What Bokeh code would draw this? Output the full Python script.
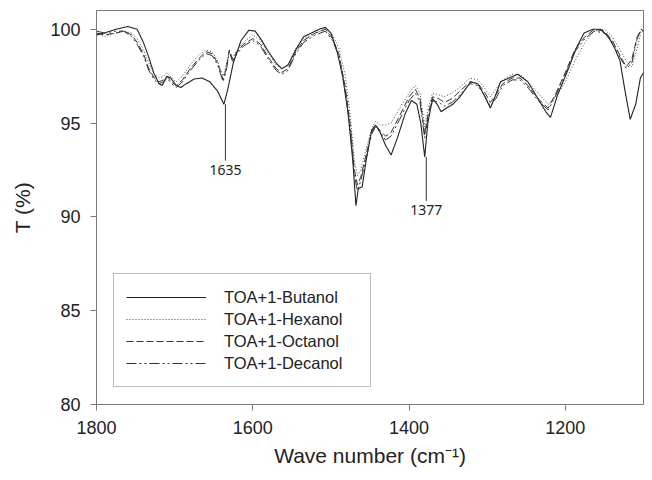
from bokeh.plotting import figure
from bokeh.models import Range1d, FixedTicker, Legend, LegendItem, ColumnDataSource
from bokeh.core.properties import value
from bokeh.embed import file_html
from bokeh.resources import INLINE

# ---------------- data ----------------
butanol_w = [1800, 1790, 1775, 1760, 1748, 1740, 1733, 1727, 1720, 1716, 1710, 1705, 1698, 1692,
             1685, 1675, 1665, 1655, 1645, 1637, 1632, 1625, 1615, 1605, 1597, 1590, 1580, 1570,
             1563, 1555, 1545, 1535, 1525, 1515, 1507, 1500, 1492, 1485, 1478, 1472, 1468, 1465,
             1460, 1455, 1448, 1443, 1438, 1430, 1423, 1415, 1405, 1397, 1390, 1385, 1380, 1376,
             1370, 1364, 1359, 1352, 1344, 1335, 1321, 1312, 1304, 1296, 1290, 1283, 1272, 1261,
             1248, 1235, 1225, 1219, 1210, 1197, 1186, 1176, 1165, 1155, 1145, 1137, 1130, 1124,
             1117, 1110, 1104, 1100]
butanol_t = [99.7, 99.8, 100.0, 100.15, 100.0, 99.3, 98.5, 97.7, 97.1, 97.0, 97.5, 97.4, 97.0, 96.9,
             97.1, 97.35, 97.4, 97.2, 96.7, 96.0, 96.8, 98.2, 99.4, 99.95, 99.9, 99.5, 98.8, 98.2,
             97.9, 98.1, 98.9, 99.6, 99.8, 100.0, 100.1, 99.8, 98.8, 97.5, 95.5, 93.0, 90.6, 91.5,
             91.6, 93.0, 94.6, 94.9, 94.6, 93.8, 93.3, 94.2, 95.5, 96.2, 96.0, 95.0, 93.2, 95.0,
             96.3, 96.0, 95.6, 95.8, 96.0, 96.4, 97.2, 97.1, 96.5, 95.8, 96.4, 97.2, 97.4, 97.6,
             97.2, 96.3, 95.6, 95.3, 96.5, 97.8, 99.0, 99.8, 100.0, 100.0, 99.6, 99.0, 98.3, 96.8,
             95.2, 96.0, 97.4, 97.7]

hexanol_w = [1800, 1790, 1775, 1765, 1755, 1748, 1740, 1733, 1726, 1720, 1714, 1710, 1704, 1698,
             1690, 1680, 1670, 1660, 1652, 1645, 1638, 1634, 1630, 1626, 1620, 1612, 1600, 1590,
             1580, 1570, 1563, 1555, 1545, 1535, 1520, 1507, 1498, 1490, 1482, 1475, 1470, 1466,
             1462, 1455, 1448, 1443, 1437, 1430, 1423, 1412, 1400, 1392, 1386, 1380, 1376, 1370,
             1362, 1355, 1345, 1335, 1322, 1312, 1304, 1296, 1289, 1280, 1268, 1258, 1248, 1235,
             1222, 1212, 1200, 1188, 1175, 1163, 1150, 1140, 1130, 1122, 1115, 1108, 1103, 1100]
hexanol_t = [99.8, 99.6, 99.8, 99.9, 99.8, 99.5, 98.9, 98.2, 97.6, 97.4, 97.5, 97.7, 97.4, 97.2,
             97.5, 98.1, 98.6, 98.9, 98.8, 98.3, 97.5, 98.1, 98.8, 98.5, 98.9, 99.3, 99.7, 99.4,
             98.7, 98.1, 97.9, 98.1, 99.0, 99.5, 99.8, 100.0, 99.7, 99.0, 97.6, 95.3, 93.0, 92.2,
             92.5, 93.6, 94.7, 95.1, 94.9, 94.9, 95.0, 95.8, 96.6, 97.0, 96.6, 94.8, 95.7, 96.6,
             96.5, 96.4, 96.6, 96.9, 97.4, 97.3, 96.9, 96.4, 96.8, 97.3, 97.6, 97.6, 97.2, 96.6,
             96.0, 96.4, 97.2, 98.3, 99.3, 99.9, 100.0, 99.6, 98.9, 98.3, 98.0, 99.0, 99.9, 99.9]

octanol_w = [1800, 1790, 1775, 1765, 1755, 1748, 1740, 1733, 1726, 1720, 1714, 1710, 1704, 1698,
             1690, 1680, 1670, 1660, 1652, 1645, 1638, 1634, 1630, 1626, 1620, 1612, 1600, 1590,
             1580, 1570, 1563, 1555, 1545, 1535, 1520, 1507, 1498, 1490, 1482, 1475, 1470, 1466,
             1462, 1455, 1448, 1443, 1437, 1430, 1423, 1412, 1400, 1392, 1386, 1380, 1376, 1370,
             1362, 1355, 1345, 1335, 1322, 1312, 1304, 1296, 1289, 1280, 1268, 1258, 1248, 1235,
             1222, 1212, 1200, 1188, 1175, 1163, 1150, 1140, 1130, 1122, 1115, 1108, 1103, 1100]
octanol_t = [99.8, 99.7, 99.8, 99.9, 99.7, 99.3, 98.7, 97.9, 97.4, 97.2, 97.3, 97.5, 97.2, 97.0,
             97.3, 97.9, 98.4, 98.8, 98.7, 98.2, 97.3, 97.9, 98.9, 98.4, 98.8, 99.2, 99.5, 99.2,
             98.5, 97.9, 97.7, 97.9, 98.8, 99.4, 99.8, 100.0, 99.5, 98.7, 97.0, 94.8, 92.5, 91.7,
             92.1, 93.3, 94.5, 94.9, 94.6, 94.3, 94.5, 95.4, 96.4, 96.8, 96.3, 94.4, 95.4, 96.4,
             96.3, 96.1, 96.3, 96.7, 97.2, 97.1, 96.7, 96.1, 96.5, 97.1, 97.4, 97.4, 97.0, 96.3,
             95.8, 96.6, 97.7, 98.9, 99.6, 100.0, 99.9, 99.4, 98.6, 98.0, 98.4, 99.6, 100.0, 99.9]

decanol_w = [1800, 1790, 1775, 1765, 1755, 1748, 1740, 1733, 1726, 1720, 1714, 1710, 1704, 1698,
             1690, 1680, 1670, 1660, 1652, 1645, 1638, 1634, 1630, 1626, 1620, 1612, 1600, 1590,
             1580, 1570, 1563, 1555, 1545, 1535, 1520, 1507, 1498, 1490, 1482, 1475, 1470, 1466,
             1462, 1455, 1448, 1443, 1437, 1430, 1423, 1412, 1400, 1392, 1386, 1380, 1376, 1370,
             1362, 1355, 1345, 1335, 1322, 1312, 1304, 1296, 1289, 1280, 1268, 1258, 1248, 1235,
             1222, 1212, 1200, 1188, 1175, 1163, 1150, 1140, 1130, 1122, 1115, 1108, 1103, 1100]
decanol_t = [99.9, 99.8, 99.9, 99.9, 99.6, 99.2, 98.6, 97.8, 97.3, 97.1, 97.2, 97.4, 97.1, 96.9,
             97.2, 97.8, 98.3, 98.7, 98.6, 98.1, 97.2, 97.8, 98.8, 98.3, 98.7, 99.1, 99.4, 99.1,
             98.4, 97.8, 97.6, 97.8, 98.7, 99.3, 99.7, 99.9, 99.4, 98.6, 96.8, 94.6, 92.2, 91.4,
             91.9, 93.1, 94.4, 94.8, 94.5, 94.1, 94.3, 95.2, 96.2, 96.6, 96.1, 94.2, 95.2, 96.2,
             96.1, 95.9, 96.1, 96.5, 97.1, 97.0, 96.5, 95.9, 96.3, 97.0, 97.3, 97.3, 96.9, 96.2,
             95.7, 96.5, 97.6, 98.8, 99.5, 99.9, 99.8, 99.3, 98.5, 97.9, 98.2, 99.5, 100.0, 99.9]

series_names = ["TOA+1-Butanol", "TOA+1-Hexanol", "TOA+1-Octanol", "TOA+1-Decanol"]

peak_labels = ["1635", "1377"]
peak_w = [1635, 1378]
peak_top = [96.0, 93.2]
peak_bottom = [93.0, 90.85]

x_ticks = [1800, 1600, 1400, 1200]
y_ticks = [80, 85, 90, 95, 100]

# ---------------- figure ----------------
p = figure(width=644, height=472, output_backend="svg", toolbar_location=None,
           x_range=Range1d(1800, 1100), y_range=Range1d(80, 101),
           min_border_left=96, min_border_right=1, min_border_top=10, min_border_bottom=68)
p.grid.visible = False
p.background_fill_color = "white"
p.border_fill_color = "white"
p.outline_line_color = "#7a7a7a"
p.outline_line_width = 1

FONT = "Liberation Sans"
for ax in (p.xaxis[0], p.yaxis[0]):
    ax.axis_line_color = "#7a7a7a"
    ax.major_tick_line_color = "#7a7a7a"
    ax.minor_tick_line_color = None
    ax.major_tick_out = 6
    ax.major_tick_in = 0
    ax.major_label_text_font = FONT
    ax.major_label_text_font_size = "18px"
    ax.major_label_text_color = "#222222"
    ax.axis_label_text_font = FONT
    ax.axis_label_text_font_style = "normal"
    ax.axis_label_text_font_size = "21px"
    ax.axis_label_text_color = "#222222"

p.xaxis[0].ticker = FixedTicker(ticks=x_ticks)
p.yaxis[0].ticker = FixedTicker(ticks=y_ticks)
p.xaxis[0].axis_label = "Wave number (cm\u207b\u00b9)"
p.yaxis[0].axis_label = "T (%)"
p.xaxis[0].major_label_standoff = 10
p.yaxis[0].major_label_standoff = 10
p.xaxis[0].axis_label_standoff = 7
p.yaxis[0].axis_label_standoff = 13

r1 = p.line(butanol_w, butanol_t, line_color="#222222", line_width=1.1)
r2 = p.line(hexanol_w, hexanol_t, line_color="#444444", line_width=1.0, line_dash="1 2")
r3 = p.line(octanol_w, octanol_t, line_color="#333333", line_width=1.0, line_dash="7 3")
r4 = p.line(decanol_w, decanol_t, line_color="#333333", line_width=1.0, line_dash="10 3 2 3 2 3")

# peak markers
src = ColumnDataSource(dict(w=peak_w, top=peak_top, bottom=peak_bottom, lab=peak_labels))
p.segment(x0="w", y0="top", x1="w", y1="bottom", source=src, line_color="#333333", line_width=1)
p.text(x="w", y="bottom", text="lab", source=src, text_align="center", text_baseline="top",
       y_offset=4, text_font=value("Noto Sans"), text_font_size="14px", text_color="#222222")

legend = Legend(items=[LegendItem(label=series_names[0], renderers=[r1]),
                       LegendItem(label=series_names[1], renderers=[r2]),
                       LegendItem(label=series_names[2], renderers=[r3]),
                       LegendItem(label=series_names[3], renderers=[r4])],
                location=(17, 17))
legend.glyph_width = 80
legend.glyph_height = 22
legend.label_height = 22
legend.label_standoff = 18
legend.label_width = 134
legend.padding = 12
legend.spacing = 0
legend.margin = 0
legend.label_text_font = FONT
legend.label_text_font_size = "16.5px"
legend.label_text_color = "#222222"
legend.border_line_color = "#7a7a7a"
legend.border_line_width = 1
legend.background_fill_alpha = 1
p.add_layout(legend)

open("out.html", "w").write(file_html(p, INLINE))
